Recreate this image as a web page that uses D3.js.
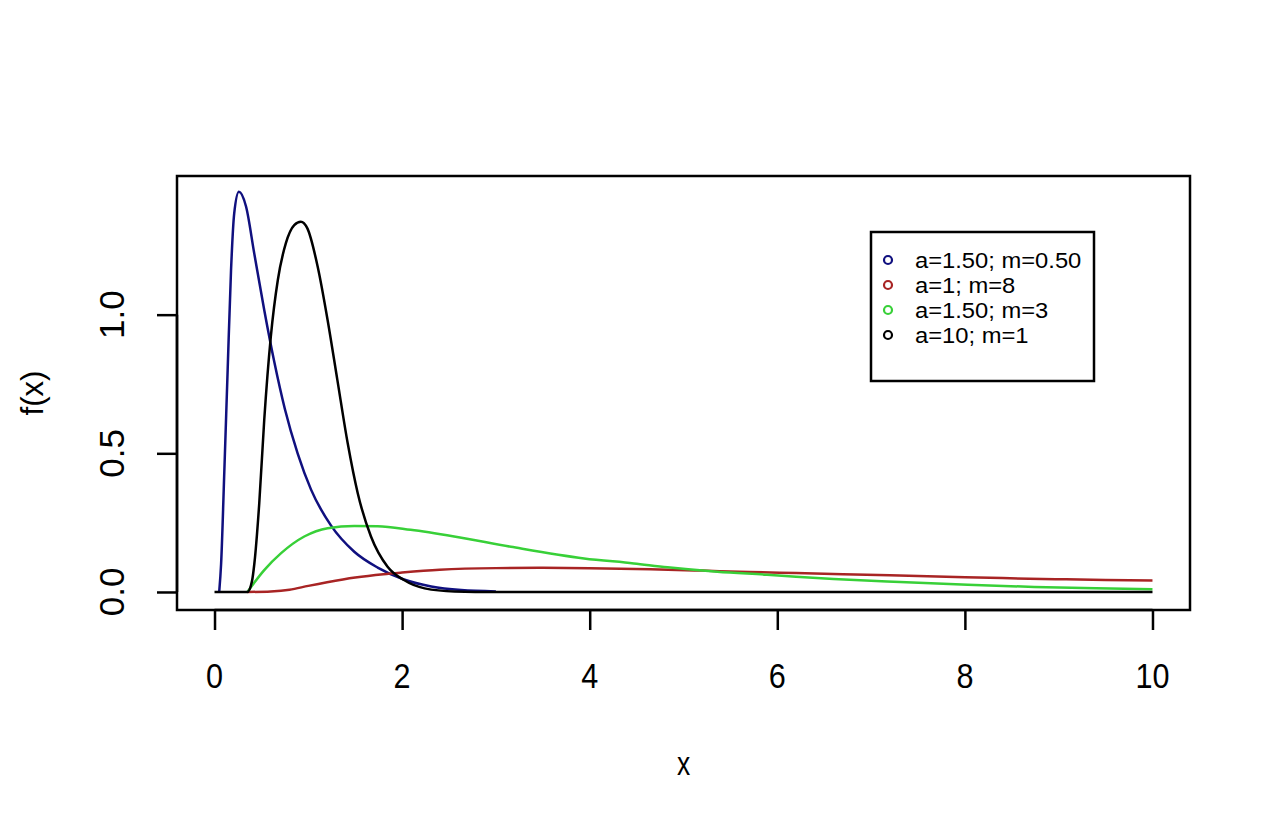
<!DOCTYPE html>
<html>
<head>
<meta charset="utf-8">
<script src="https://cdn.jsdelivr.net/npm/d3@7"></script>
<style>
  body { margin: 0; background: #ffffff; }
  svg { display: block; }
  text { font-family: "Liberation Sans", Arial, sans-serif; fill: #000; }
</style>
</head>
<body>
<script>
// values
var blueX = [0.05, 0.07, 0.105, 0.14, 0.176, 0.21, 0.26, 0.336, 0.424, 0.53, 0.637, 0.75, 0.886, 1.028, 1.241, 1.49, 1.739, 2.02, 2.31, 2.63, 3.0];
var blueY = [0, 0.10, 0.44, 0.80, 1.16, 1.365, 1.443, 1.39, 1.22, 1.017, 0.83, 0.66, 0.50, 0.37, 0.24, 0.145, 0.088, 0.045, 0.02, 0.007, 0.002];

var redX = [0.35, 0.6, 0.8, 1.0, 1.2, 1.5, 1.8, 2.0, 2.4, 3.0, 3.5, 4.0, 4.65, 5.2, 5.7, 6.2, 6.7, 7.2, 7.8, 8.4, 9.0, 9.5, 10];
var redY = [0, 0.002, 0.008, 0.022, 0.035, 0.052, 0.064, 0.07, 0.08, 0.086, 0.087, 0.086, 0.082, 0.077, 0.072, 0.068, 0.064, 0.06, 0.055, 0.05, 0.046, 0.043, 0.041];

var greenX = [0.35, 0.53, 0.71, 0.957, 1.206, 1.49, 1.74, 2.09, 2.555, 3.16, 3.94, 4.47, 4.83, 5.36, 5.89, 6.2, 6.6, 7.31, 8.03, 8.74, 9.4, 10];
var greenY = [0, 0.079, 0.14, 0.20, 0.23, 0.238, 0.237, 0.224, 0.20, 0.163, 0.121, 0.103, 0.089, 0.073, 0.062, 0.055, 0.047, 0.036, 0.026, 0.018, 0.013, 0.01];

var blackX = [0, 0.35, 0.40, 0.424, 0.477, 0.53, 0.60, 0.675, 0.76, 0.85, 0.92, 0.99, 1.10, 1.206, 1.31, 1.42, 1.527, 1.668, 1.845, 2.02, 2.24, 2.56, 3.0, 10];
var blackY = [0, 0, 0.04, 0.10, 0.32, 0.62, 0.92, 1.125, 1.257, 1.323, 1.335, 1.311, 1.173, 0.98, 0.764, 0.536, 0.356, 0.20, 0.091, 0.043, 0.013, 0.002, 0, 0];

var seriesNames = ["a=1.50; m=0.50", "a=1; m=8", "a=1.50; m=3", "a=10; m=1"];
var seriesColors = ["#10107f", "#a82424", "#38d038", "#000000"];

var xTicks = [0, 2, 4, 6, 8, 10];
var yTicks = [0.0, 0.5, 1.0];

var width = 1280, height = 829;

var svg = d3.select("body").append("svg")
    .attr("width", width)
    .attr("height", height);

// plot region (R style: data range padded by 4%)
var x = d3.scaleLinear().domain([-0.4, 10.4]).range([177, 1190]);
var y = d3.scaleLinear().domain([-0.065, 1.5]).range([610, 176]);

// box
svg.append("rect")
    .attr("x", x.range()[0])
    .attr("y", y.range()[1])
    .attr("width", x.range()[1] - x.range()[0])
    .attr("height", y.range()[0] - y.range()[1])
    .attr("fill", "none")
    .attr("stroke", "#000")
    .attr("stroke-width", 2.5);

// x axis
var xAxis = svg.append("g")
    .attr("transform", "translate(0," + y.range()[0] + ")")
    .call(d3.axisBottom(x).tickValues(xTicks).tickSize(20).tickFormat(""));
xAxis.select(".domain")
    .attr("d", "M" + x(xTicks[0]) + ",0H" + x(xTicks[xTicks.length - 1]))
    .attr("stroke-width", 2.5);
xAxis.selectAll(".tick line").attr("stroke-width", 2.5);

svg.selectAll(".xlab")
    .data(xTicks)
    .enter()
    .append("text")
    .attr("class", "xlab")
    .attr("transform", function (d) { return "translate(" + x(d) + ",688) scale(0.85,1)"; })
    .attr("text-anchor", "middle")
    .style("font-size", "36px")
    .text(function (d) { return d; });

// y axis
var yAxis = svg.append("g")
    .attr("transform", "translate(" + x.range()[0] + ",0)")
    .call(d3.axisLeft(y).tickValues(yTicks).tickSize(20).tickFormat(""));
yAxis.select(".domain")
    .attr("d", "M0," + y(yTicks[0]) + "V" + y(yTicks[yTicks.length - 1]))
    .attr("stroke-width", 2.5);
yAxis.selectAll(".tick line").attr("stroke-width", 2.5);

svg.selectAll(".ylab")
    .data(yTicks)
    .enter()
    .append("text")
    .attr("class", "ylab")
    .attr("transform", function (d) { return "translate(124," + y(d) + ") rotate(-90)"; })
    .attr("text-anchor", "middle")
    .style("font-size", "35px")
    .text(function (d) { return d3.format(".1f")(d); });

// axis titles
svg.append("text")
    .attr("transform", "translate(" + (x.range()[0] + x.range()[1]) / 2 + ",775) scale(0.8,1)")
    .attr("text-anchor", "middle")
    .style("font-size", "33px")
    .text("x");

svg.append("text")
    .attr("transform", "translate(43," + (y.range()[0] + y.range()[1]) / 2 + ") rotate(-90)")
    .attr("text-anchor", "middle")
    .style("font-size", "31px")
    .text("f(x)");

// curves
var seriesData = [
    d3.zip(blueX, blueY),
    d3.zip(redX, redY),
    d3.zip(greenX, greenY),
    d3.zip(blackX, blackY)
];

var line = d3.line()
    .x(function (d) { return x(d[0]); })
    .y(function (d) { return y(d[1]); })
    .curve(d3.curveMonotoneX);

svg.selectAll(".curve")
    .data(seriesData)
    .enter()
    .append("path")
    .attr("class", "curve")
    .attr("d", line)
    .attr("fill", "none")
    .attr("stroke", function (d, i) { return seriesColors[i]; })
    .attr("stroke-width", 2.5);

// legend
var legend = svg.append("g").attr("transform", "translate(871,232)");
legend.append("rect")
    .attr("width", 223)
    .attr("height", 149)
    .attr("fill", "#fff")
    .attr("stroke", "#000")
    .attr("stroke-width", 2.5);

var rows = legend.selectAll(".row")
    .data(seriesNames)
    .enter()
    .append("g")
    .attr("class", "row")
    .attr("transform", function (d, i) { return "translate(0," + (28 + i * 25) + ")"; });

rows.append("circle")
    .attr("cx", 17)
    .attr("cy", 0)
    .attr("r", 4)
    .attr("fill", "none")
    .attr("stroke", function (d, i) { return seriesColors[i]; })
    .attr("stroke-width", 2.2);

rows.append("text")
    .attr("transform", "translate(44,8) scale(1.08,1)")
    .style("font-size", "22px")
    .text(function (d) { return d; });
</script>
</body>
</html>
